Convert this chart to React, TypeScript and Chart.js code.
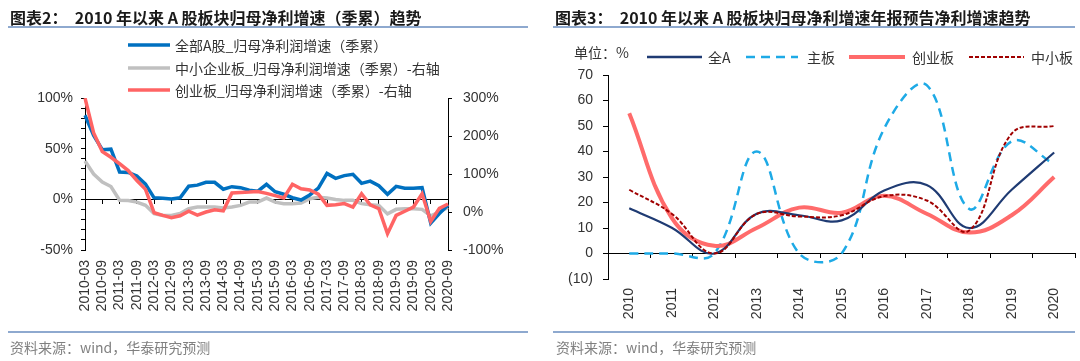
import React, { useEffect, useRef } from "react";
import { Chart, registerables } from "chart.js";

Chart.register(...registerables);

const FONT = "'Liberation Sans', Arial, sans-serif";
const CJK = "'Noto Sans CJK SC', 'Liberation Sans', sans-serif";

// ---------- Left chart data (quarterly, cumulative) ----------
const quarterLabels = [
  "2010-03", "2010-06", "2010-09", "2010-12",
  "2011-03", "2011-06", "2011-09", "2011-12",
  "2012-03", "2012-06", "2012-09", "2012-12",
  "2013-03", "2013-06", "2013-09", "2013-12",
  "2014-03", "2014-06", "2014-09", "2014-12",
  "2015-03", "2015-06", "2015-09", "2015-12",
  "2016-03", "2016-06", "2016-09", "2016-12",
  "2017-03", "2017-06", "2017-09", "2017-12",
  "2018-03", "2018-06", "2018-09", "2018-12",
  "2019-03", "2019-06", "2019-09", "2019-12",
  "2020-03", "2020-06", "2020-09",
];

// 全部A股_归母净利润增速（季累） — left axis, %
const allAGrowth = [
  83, 63, 49, 49.5, 27, 26.5, 23, 15, 1.5, 1, 0.3, 1.5, 13, 14, 16.8, 16.8,
  10, 12.5, 11.5, 9, 8, 14.8, 7.5, 5, 1.6, -0.7, 4.3, 11, 25.6, 20.7, 23.4,
  24.7, 15.8, 18, 13.5, 5, 12.8, 10.9, 10.9, 11.5, -23.5, -14, -5.5,
];

// 中小企业板_归母净利润增速（季累） — right axis, %
const smeGrowth = [
  134, 100, 79, 67, 31, 30, 26, 17.5, -4, -9, -9, -4, 8.7, 13, 13, 13,
  10.5, 13, 17.5, 26, 26, 36.7, 26, 22, 22, 23.6, 35, 39, 36.7, 33, 30.6,
  30.6, 22, 19, 17.5, -5, 7, 8.7, 8.7, 7, -10, 0, 12,
];

// 创业板_归母净利润增速（季累） — right axis, %
const chinextGrowth = [
  300, 208, 159, 144, 127, 109, 83, 59.5, -2, -9, -15, -10, 2, -8, 0, 6,
  3, 50, 51.6, 52.5, 54, 49, 43, 37, 73, 61, 58, 47, 17.5, 19, 22,
  13, 48, 19, 8.7, -57, -9, 2, 13, 48, -25, 9.6, 21,
];

const leftAxisTicks = [-50, 0, 50, 100];
const rightAxisTicks = [-100, 0, 100, 200, 300];

// ---------- Right chart data (annual) ----------
const years = ["2010", "2011", "2012", "2013", "2014", "2015", "2016", "2017", "2018", "2019", "2020"];
const annualAllA = [17.7, 10.1, 0, 15.6, 15, 13, 24.7, 26.9, 10, 25, 39.6];
const annualMainBoard = [0, 0, 0, 40, 0, 0, 49, 66, 17.5, 44, 35];
const annualChiNext = [55, 14, 3, 10, 18, 16, 22.6, 15.6, 8.2, 15, 30];
const annualSME = [25, 15.6, 0, 15.5, 14.5, 15, 22.5, 20.8, 9, 47, 50];

const tickFont = { family: FONT, size: 14 };
const tickColor = "#333333";

function LeftChart() {
  const ref = useRef<HTMLCanvasElement>(null);
  useEffect(() => {
    const chart = new Chart(ref.current as HTMLCanvasElement, {
      type: "line",
      data: {
        labels: quarterLabels,
        datasets: [
          {
            label: "创业板_归母净利润增速（季累）-右轴",
            data: chinextGrowth,
            xAxisID: "x",
            yAxisID: "y1",
            borderColor: "#FF6464",
            borderWidth: 3.5,
            pointRadius: 0,
            tension: 0,
            order: 0,
          },
          {
            label: "全部A股_归母净利润增速（季累）",
            data: allAGrowth,
            xAxisID: "x",
            yAxisID: "y",
            borderColor: "#0070C0",
            borderWidth: 3.5,
            pointRadius: 0,
            tension: 0,
            order: 1,
          },
          {
            label: "中小企业板_归母净利润增速（季累）-右轴",
            data: smeGrowth,
            xAxisID: "x",
            yAxisID: "y1",
            borderColor: "#C0C0C0",
            borderWidth: 3.5,
            pointRadius: 0,
            tension: 0,
            order: 2,
          },
        ],
      },
      options: {
        responsive: false,
        animation: false,
        layout: { padding: { top: 98, left: 0, right: 0, bottom: 0 } },
        plugins: { legend: { display: false }, tooltip: { enabled: false } },
        scales: {
          x: {
            type: "category",
            position: "bottom",
            offset: false,
            grid: { display: false, drawTicks: false },
            border: { display: false },
            ticks: {
              autoSkip: false,
              minRotation: 90,
              maxRotation: 90,
              padding: 10,
              font: tickFont,
              color: tickColor,
              callback: (_v: any, i: number) => (i % 2 === 0 ? quarterLabels[i] : ""),
            },
            afterFit: (s: any) => {
              s.height = 111;
            },
          },
          x0: {
            type: "category",
            axis: "x",
            position: { y: 0 },
            offset: false,
            grid: {
              display: true,
              drawOnChartArea: false,
              drawTicks: true,
              tickLength: 4,
              tickColor: (ctx: any) => (ctx.index % 2 === 0 ? "#000" : "rgba(0,0,0,0)"),
              color: "rgba(0,0,0,0)",
            },
            border: { display: true, color: "#000", width: 1 },
            ticks: { display: false, autoSkip: false },
          },
          y: {
            type: "linear",
            position: "left",
            min: leftAxisTicks[0],
            max: leftAxisTicks[leftAxisTicks.length - 1],
            grid: { drawOnChartArea: false, tickLength: 4, color: "#000" },
            border: { display: true, color: "#000" },
            ticks: {
              stepSize: 10,
              autoSkip: false,
              padding: 8,
              font: tickFont,
              color: tickColor,
              callback: (v: any) => (leftAxisTicks.includes(Number(v)) ? `${v}%` : ""),
            },
            afterFit: (s: any) => {
              s.width = 85;
            },
          },
          y1: {
            type: "linear",
            axis: "y",
            position: "right",
            min: rightAxisTicks[0],
            max: rightAxisTicks[rightAxisTicks.length - 1],
            grid: { drawOnChartArea: false, tickLength: 4, color: "#000" },
            border: { display: true, color: "#000" },
            ticks: {
              stepSize: 100,
              autoSkip: false,
              padding: 11,
              font: tickFont,
              color: tickColor,
              callback: (v: any) => `${v}%`,
            },
            afterFit: (s: any) => {
              s.width = 92;
            },
          },
        },
      } as any,
    });
    return () => chart.destroy();
  }, []);
  return (
    <canvas
      ref={ref}
      width={540}
      height={361}
      style={{ position: "absolute", left: 0, top: 0, width: 540, height: 361 }}
    />
  );
}

function RightChart() {
  const ref = useRef<HTMLCanvasElement>(null);
  useEffect(() => {
    const common = { pointRadius: 0, tension: 0.4, xAxisID: "x", yAxisID: "y" };
    const chart = new Chart(ref.current as HTMLCanvasElement, {
      type: "line",
      data: {
        labels: years,
        datasets: [
          { ...common, label: "全A", data: annualAllA, borderColor: "#1F3B73", borderWidth: 2.2, order: 1 },
          {
            ...common,
            label: "主板",
            data: annualMainBoard,
            borderColor: "#1EAAE6",
            borderWidth: 2.5,
            borderDash: [9, 6],
            order: 3,
          },
          { ...common, label: "创业板", data: annualChiNext, borderColor: "#FF6B6B", borderWidth: 4, order: 2 },
          {
            ...common,
            label: "中小板",
            data: annualSME,
            borderColor: "#A00000",
            borderWidth: 2,
            borderDash: [4, 2],
            order: 0,
          },
        ],
      },
      options: {
        responsive: false,
        animation: false,
        layout: { padding: { top: 75, left: 0, right: 1, bottom: 0 } },
        plugins: { legend: { display: false }, tooltip: { enabled: false } },
        scales: {
          x: {
            type: "category",
            position: "bottom",
            offset: true,
            grid: { display: false, drawTicks: false },
            border: { display: false },
            ticks: {
              autoSkip: false,
              minRotation: 90,
              maxRotation: 90,
              padding: 9,
              font: tickFont,
              color: tickColor,
            },
            afterFit: (s: any) => {
              s.height = 82;
            },
          },
          x0: {
            type: "category",
            axis: "x",
            position: { y: 0 },
            offset: true,
            grid: {
              display: true,
              offset: true,
              drawOnChartArea: false,
              drawTicks: true,
              tickLength: 4,
              tickColor: "#000",
              color: "rgba(0,0,0,0)",
            },
            border: { display: true, color: "#000", width: 1 },
            ticks: { display: false, autoSkip: false },
          },
          y: {
            type: "linear",
            position: "left",
            min: -10,
            max: 70,
            grid: { drawOnChartArea: false, tickLength: 5, color: "#000" },
            border: { display: true, color: "#000" },
            ticks: {
              stepSize: 10,
              autoSkip: false,
              padding: 10,
              font: tickFont,
              color: tickColor,
              callback: (v: any) => (Number(v) < 0 ? `(${-Number(v)})` : `${v}`),
            },
            afterFit: (s: any) => {
              s.width = 68;
            },
          },
        },
      } as any,
    });
    return () => chart.destroy();
  }, []);
  return (
    <canvas
      ref={ref}
      width={540}
      height={361}
      style={{ position: "absolute", left: 540, top: 0, width: 540, height: 361 }}
    />
  );
}

function Text(props: { x: number; cy: number; size: number; color: string; bold?: boolean; children: any }) {
  return (
    <div
      style={{
        position: "absolute",
        left: props.x,
        top: props.cy - 11,
        height: 22,
        lineHeight: "22px",
        fontSize: props.size,
        color: props.color,
        fontWeight: props.bold ? 700 : 400,
        whiteSpace: "pre",
        fontFamily: CJK,
      }}
    >
      {props.children}
    </div>
  );
}

function Swatch(props: { x: number; cy: number; w: number; color: string; width: number; dash?: string }) {
  return (
    <svg
      style={{ position: "absolute", left: props.x, top: props.cy - 4 }}
      width={props.w}
      height={8}
    >
      <line
        x1={0}
        y1={4}
        x2={props.w}
        y2={4}
        stroke={props.color}
        strokeWidth={props.width}
        strokeDasharray={props.dash}
      />
    </svg>
  );
}

function Rule(props: { x: number; y: number; w: number }) {
  return (
    <div
      style={{
        position: "absolute",
        left: props.x,
        top: props.y,
        width: props.w,
        height: 2,
        background: "#8EA9CF",
      }}
    />
  );
}

export default function App() {
  return (
    <div
      style={{
        position: "absolute",
        left: 0,
        top: 0,
        width: 1080,
        height: 361,
        background: "#ffffff",
        overflow: "hidden",
      }}
    >
      <LeftChart />
      <RightChart />

      {/* Left panel header */}
      <Text x={10} cy={17} size={16} color="#1a1a1a" bold>
        {"图表2：  2010 年以来 A 股板块归母净利增速（季累）趋势"}
      </Text>
      <Rule x={8} y={26} w={520} />

      {/* Left legend */}
      <Swatch x={128} cy={45} w={42} color="#0070C0" width={3.5} />
      <Text x={175} cy={45} size={14} color="#333">
        {"全部A股_归母净利润增速（季累）"}
      </Text>
      <Swatch x={128} cy={68} w={42} color="#C0C0C0" width={3.5} />
      <Text x={175} cy={68} size={14} color="#333">
        {"中小企业板_归母净利润增速（季累）-右轴"}
      </Text>
      <Swatch x={128} cy={90} w={42} color="#FF6464" width={3.5} />
      <Text x={175} cy={90} size={14} color="#333">
        {"创业板_归母净利润增速（季累）-右轴"}
      </Text>

      {/* Left footer */}
      <Rule x={8} y={331} w={520} />
      <Text x={10} cy={347} size={14} color="#808080">
        {"资料来源：wind，华泰研究预测"}
      </Text>

      {/* Right panel header */}
      <Text x={555} cy={17} size={16} color="#1a1a1a" bold>
        {"图表3：  2010 年以来 A 股板块归母净利增速年报预告净利增速趋势"}
      </Text>
      <Rule x={553} y={26} w={522} />

      {/* Right legend */}
      <Text x={574} cy={52} size={14} color="#333">
        {"单位：%"}
      </Text>
      <Swatch x={647} cy={57} w={55} color="#1F3B73" width={2.5} />
      <Text x={708} cy={57} size={14} color="#333">
        {"全A"}
      </Text>
      <Swatch x={746} cy={57} w={52} color="#1EAAE6" width={2.5} dash="9 6" />
      <Text x={807} cy={57} size={14} color="#333">
        {"主板"}
      </Text>
      <Swatch x={849} cy={57} w={56} color="#FF6B6B" width={4} />
      <Text x={912} cy={57} size={14} color="#333">
        {"创业板"}
      </Text>
      <Swatch x={969} cy={57} w={55} color="#A00000" width={2} dash="4 2" />
      <Text x={1031} cy={57} size={14} color="#333">
        {"中小板"}
      </Text>

      {/* Right footer */}
      <Rule x={553} y={331} w={522} />
      <Text x={556} cy={347} size={14} color="#808080">
        {"资料来源：wind，华泰研究预测"}
      </Text>
    </div>
  );
}
